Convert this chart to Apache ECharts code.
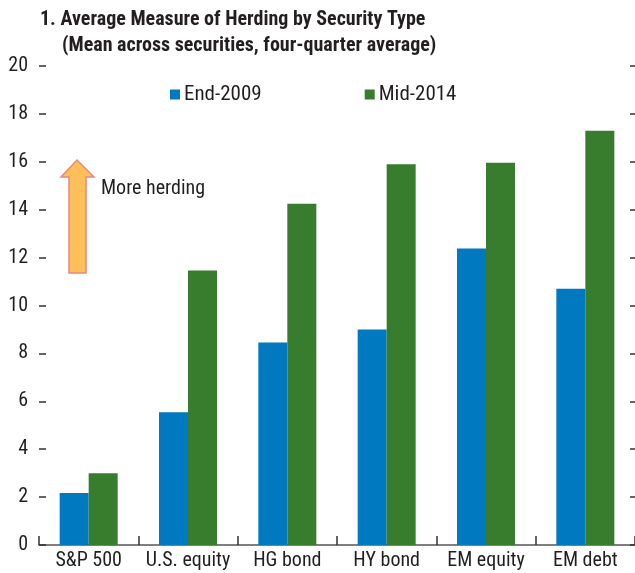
<!DOCTYPE html>
<html>
<head>
<meta charset="utf-8">
<script src="https://cdn.jsdelivr.net/npm/echarts@6/dist/echarts.min.js"></script>
<style>
html,body{margin:0;padding:0;background:#fff;}
#chart{width:635px;height:573px;}
</style>
</head>
<body>
<div id="chart"></div>
<script>
var categories = ['S&P 500', 'U.S. equity', 'HG bond', 'HY bond', 'EM equity', 'EM debt'];
var end2009 = [2.17, 5.54, 8.46, 9.0, 12.38, 10.7];
var mid2014 = [3.0, 11.46, 14.25, 15.9, 15.96, 17.3];
var seriesNames = ['End-2009', 'Mid-2014'];

var FONT = "'Liberation Sans Narrow', 'Arial Narrow', 'Roboto Condensed', sans-serif";
var TXT = '#231f20';

var chart = echarts.init(document.getElementById('chart'), null, {renderer: 'canvas'});
chart.setOption({
  animation: false,
  backgroundColor: '#ffffff',
  textStyle: {fontFamily: FONT, color: TXT},
  title: [
    {text: '1. Average Measure of Herding by Security Type', left: 40, top: 10, padding: 0,
     textStyle: {fontFamily: FONT, fontSize: 20, fontWeight: 'bold', color: TXT}},
    {text: '(Mean across securities, four-quarter average)', left: 62, top: 36, padding: 0,
     textStyle: {fontFamily: FONT, fontSize: 20, fontWeight: 'bold', color: TXT}}
  ],
  legend: {
    data: seriesNames, left: 170, top: 84, padding: 0, itemWidth: 10, itemHeight: 10, itemGap: 103,
    icon: 'rect',
    textStyle: {fontFamily: FONT, fontSize: 21, color: TXT, padding: [0, 0, 0, -1]}
  },
  grid: {left: 39, right: 0, top: 66, bottom: 28, containLabel: false},
  xAxis: {
    type: 'category', data: categories, boundaryGap: true,
    axisLine: {show: true, lineStyle: {color: '#555', width: 1.5}},
    axisTick: {show: true, inside: true, length: 9, lineStyle: {color: '#333', width: 1.5}},
    axisLabel: {fontFamily: FONT, fontSize: 20, color: TXT, margin: 6, interval: 0}
  },
  yAxis: [
    {type: 'value', min: 0, max: 20, interval: 2, position: 'left',
     axisLine: {show: false},
     axisTick: {show: true, inside: true, length: 7, lineStyle: {color: '#333', width: 1.5}},
     splitLine: {show: false},
     axisLabel: {fontFamily: FONT, fontSize: 20, color: TXT, margin: 11}},
    {type: 'value', min: 0, max: 20, interval: 2, position: 'right',
     axisLine: {show: false},
     axisTick: {show: true, inside: true, length: 5, lineStyle: {color: '#333', width: 1.5}},
     splitLine: {show: false},
     axisLabel: {show: false}}
  ],
  series: [
    {name: seriesNames[0], type: 'bar', data: end2009, barWidth: 29, barGap: '0%',
     itemStyle: {color: '#0079c1'}},
    {name: seriesNames[1], type: 'bar', data: mid2014, barWidth: 29, barGap: '0%',
     itemStyle: {color: '#387c2d'}}
  ],
  graphic: [
    {type: 'polygon', z: 10,
     shape: {points: [[77, 160], [94, 177], [86, 177], [86, 273], [69, 273], [69, 177], [61, 177]]},
     style: {fill: '#fdbf5a', stroke: '#e8897d', lineWidth: 1.5}},
    {type: 'text', left: 101, top: 179, z: 10,
     style: {text: 'More herding', font: '20px ' + FONT, fill: TXT}}
  ]
});
</script>
</body>
</html>
